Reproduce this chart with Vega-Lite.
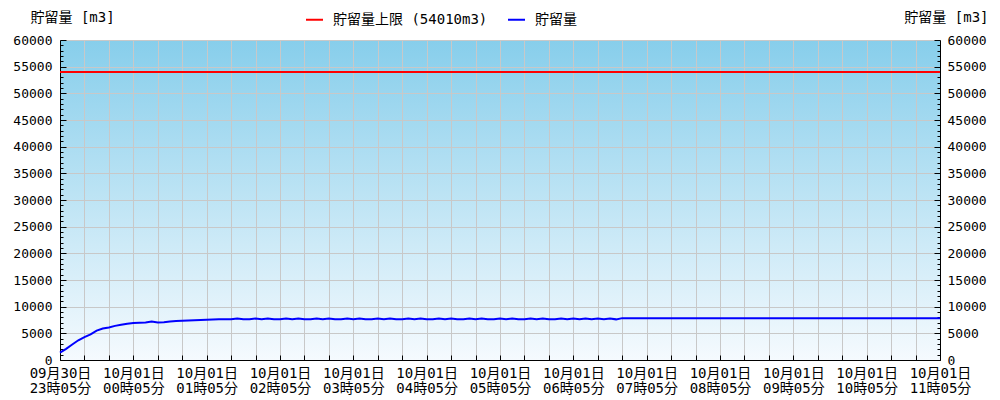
{
  "$schema": "https://vega.github.io/schema/vega-lite/v6.json",
  "width": 880,
  "height": 320,
  "autosize": {"type": "none"},
  "padding": {"left": 60, "top": 40, "right": 60, "bottom": 40},
  "background": "white",
  "config": {
    "view": {"stroke": null, "fill": {"gradient": "linear", "x1": 0, "y1": 0, "x2": 0, "y2": 1, "stops": [{"offset": 0, "color": "#87CEEB"}, {"offset": 1, "color": "#F5FAFE"}]}},
    "font": "DejaVu Sans Mono, Noto Sans CJK JP",
    "axis": {
      "labelFont": "DejaVu Sans Mono, Noto Sans CJK JP",
      "titleFont": "DejaVu Sans Mono, Noto Sans CJK JP",
      "labelColor": "#000000",
      "titleColor": "#000000",
      "domainColor": "#000000",
      "tickColor": "#000000",
      "gridColor": "#c8c8c8",
      "gridWidth": 1
    },
    "legend": {"labelFont": "DejaVu Sans Mono, Noto Sans CJK JP"}
  },
  "data": {"values": [
    {"t": "2023-09-30T23:05:00", "v": 1400},
    {"t": "2023-09-30T23:10:00", "v": 2100},
    {"t": "2023-09-30T23:15:00", "v": 2900},
    {"t": "2023-09-30T23:20:00", "v": 3700},
    {"t": "2023-09-30T23:25:00", "v": 4300},
    {"t": "2023-09-30T23:30:00", "v": 4800},
    {"t": "2023-09-30T23:35:00", "v": 5500},
    {"t": "2023-09-30T23:40:00", "v": 5900},
    {"t": "2023-09-30T23:45:00", "v": 6100},
    {"t": "2023-09-30T23:50:00", "v": 6400},
    {"t": "2023-09-30T23:55:00", "v": 6600},
    {"t": "2023-10-01T00:00:00", "v": 6800},
    {"t": "2023-10-01T00:05:00", "v": 6950},
    {"t": "2023-10-01T00:10:00", "v": 7000},
    {"t": "2023-10-01T00:15:00", "v": 7050},
    {"t": "2023-10-01T00:20:00", "v": 7200},
    {"t": "2023-10-01T00:25:00", "v": 7050},
    {"t": "2023-10-01T00:30:00", "v": 7100},
    {"t": "2023-10-01T00:35:00", "v": 7200},
    {"t": "2023-10-01T00:40:00", "v": 7300},
    {"t": "2023-10-01T00:45:00", "v": 7350},
    {"t": "2023-10-01T00:50:00", "v": 7400},
    {"t": "2023-10-01T00:55:00", "v": 7450},
    {"t": "2023-10-01T01:00:00", "v": 7500},
    {"t": "2023-10-01T01:05:00", "v": 7550},
    {"t": "2023-10-01T01:10:00", "v": 7600},
    {"t": "2023-10-01T01:15:00", "v": 7620},
    {"t": "2023-10-01T01:20:00", "v": 7650},
    {"t": "2023-10-01T01:25:00", "v": 7620},
    {"t": "2023-10-01T01:30:00", "v": 7800},
    {"t": "2023-10-01T01:35:00", "v": 7620},
    {"t": "2023-10-01T01:40:00", "v": 7620},
    {"t": "2023-10-01T01:45:00", "v": 7800},
    {"t": "2023-10-01T01:50:00", "v": 7620},
    {"t": "2023-10-01T01:55:00", "v": 7800},
    {"t": "2023-10-01T02:00:00", "v": 7620},
    {"t": "2023-10-01T02:05:00", "v": 7620},
    {"t": "2023-10-01T02:10:00", "v": 7800},
    {"t": "2023-10-01T02:15:00", "v": 7620},
    {"t": "2023-10-01T02:20:00", "v": 7800},
    {"t": "2023-10-01T02:25:00", "v": 7620},
    {"t": "2023-10-01T02:30:00", "v": 7620},
    {"t": "2023-10-01T02:35:00", "v": 7800},
    {"t": "2023-10-01T02:40:00", "v": 7620},
    {"t": "2023-10-01T02:45:00", "v": 7800},
    {"t": "2023-10-01T02:50:00", "v": 7620},
    {"t": "2023-10-01T02:55:00", "v": 7620},
    {"t": "2023-10-01T03:00:00", "v": 7800},
    {"t": "2023-10-01T03:05:00", "v": 7620},
    {"t": "2023-10-01T03:10:00", "v": 7800},
    {"t": "2023-10-01T03:15:00", "v": 7620},
    {"t": "2023-10-01T03:20:00", "v": 7620},
    {"t": "2023-10-01T03:25:00", "v": 7800},
    {"t": "2023-10-01T03:30:00", "v": 7620},
    {"t": "2023-10-01T03:35:00", "v": 7800},
    {"t": "2023-10-01T03:40:00", "v": 7620},
    {"t": "2023-10-01T03:45:00", "v": 7620},
    {"t": "2023-10-01T03:50:00", "v": 7800},
    {"t": "2023-10-01T03:55:00", "v": 7620},
    {"t": "2023-10-01T04:00:00", "v": 7800},
    {"t": "2023-10-01T04:05:00", "v": 7620},
    {"t": "2023-10-01T04:10:00", "v": 7620},
    {"t": "2023-10-01T04:15:00", "v": 7800},
    {"t": "2023-10-01T04:20:00", "v": 7620},
    {"t": "2023-10-01T04:25:00", "v": 7800},
    {"t": "2023-10-01T04:30:00", "v": 7620},
    {"t": "2023-10-01T04:35:00", "v": 7620},
    {"t": "2023-10-01T04:40:00", "v": 7800},
    {"t": "2023-10-01T04:45:00", "v": 7620},
    {"t": "2023-10-01T04:50:00", "v": 7800},
    {"t": "2023-10-01T04:55:00", "v": 7620},
    {"t": "2023-10-01T05:00:00", "v": 7620},
    {"t": "2023-10-01T05:05:00", "v": 7800},
    {"t": "2023-10-01T05:10:00", "v": 7620},
    {"t": "2023-10-01T05:15:00", "v": 7800},
    {"t": "2023-10-01T05:20:00", "v": 7620},
    {"t": "2023-10-01T05:25:00", "v": 7620},
    {"t": "2023-10-01T05:30:00", "v": 7800},
    {"t": "2023-10-01T05:35:00", "v": 7620},
    {"t": "2023-10-01T05:40:00", "v": 7800},
    {"t": "2023-10-01T05:45:00", "v": 7620},
    {"t": "2023-10-01T05:50:00", "v": 7620},
    {"t": "2023-10-01T05:55:00", "v": 7800},
    {"t": "2023-10-01T06:00:00", "v": 7620},
    {"t": "2023-10-01T06:05:00", "v": 7800},
    {"t": "2023-10-01T06:10:00", "v": 7620},
    {"t": "2023-10-01T06:15:00", "v": 7800},
    {"t": "2023-10-01T06:20:00", "v": 7620},
    {"t": "2023-10-01T06:25:00", "v": 7800},
    {"t": "2023-10-01T06:30:00", "v": 7620},
    {"t": "2023-10-01T06:35:00", "v": 7800},
    {"t": "2023-10-01T06:40:00", "v": 7620},
    {"t": "2023-10-01T06:45:00", "v": 7850},
    {"t": "2023-10-01T06:50:00", "v": 7850},
    {"t": "2023-10-01T06:55:00", "v": 7850},
    {"t": "2023-10-01T07:00:00", "v": 7850},
    {"t": "2023-10-01T07:05:00", "v": 7850},
    {"t": "2023-10-01T07:10:00", "v": 7850},
    {"t": "2023-10-01T07:15:00", "v": 7850},
    {"t": "2023-10-01T07:20:00", "v": 7850},
    {"t": "2023-10-01T07:25:00", "v": 7850},
    {"t": "2023-10-01T07:30:00", "v": 7850},
    {"t": "2023-10-01T07:35:00", "v": 7850},
    {"t": "2023-10-01T07:40:00", "v": 7850},
    {"t": "2023-10-01T07:45:00", "v": 7850},
    {"t": "2023-10-01T07:50:00", "v": 7850},
    {"t": "2023-10-01T07:55:00", "v": 7850},
    {"t": "2023-10-01T08:00:00", "v": 7850},
    {"t": "2023-10-01T08:05:00", "v": 7850},
    {"t": "2023-10-01T08:10:00", "v": 7850},
    {"t": "2023-10-01T08:15:00", "v": 7850},
    {"t": "2023-10-01T08:20:00", "v": 7850},
    {"t": "2023-10-01T08:25:00", "v": 7850},
    {"t": "2023-10-01T08:30:00", "v": 7850},
    {"t": "2023-10-01T08:35:00", "v": 7850},
    {"t": "2023-10-01T08:40:00", "v": 7850},
    {"t": "2023-10-01T08:45:00", "v": 7850},
    {"t": "2023-10-01T08:50:00", "v": 7850},
    {"t": "2023-10-01T08:55:00", "v": 7850},
    {"t": "2023-10-01T09:00:00", "v": 7850},
    {"t": "2023-10-01T09:05:00", "v": 7850},
    {"t": "2023-10-01T09:10:00", "v": 7850},
    {"t": "2023-10-01T09:15:00", "v": 7850},
    {"t": "2023-10-01T09:20:00", "v": 7850},
    {"t": "2023-10-01T09:25:00", "v": 7850},
    {"t": "2023-10-01T09:30:00", "v": 7850},
    {"t": "2023-10-01T09:35:00", "v": 7850},
    {"t": "2023-10-01T09:40:00", "v": 7850},
    {"t": "2023-10-01T09:45:00", "v": 7850},
    {"t": "2023-10-01T09:50:00", "v": 7850},
    {"t": "2023-10-01T09:55:00", "v": 7850},
    {"t": "2023-10-01T10:00:00", "v": 7850},
    {"t": "2023-10-01T10:05:00", "v": 7850},
    {"t": "2023-10-01T10:10:00", "v": 7850},
    {"t": "2023-10-01T10:15:00", "v": 7850},
    {"t": "2023-10-01T10:20:00", "v": 7850},
    {"t": "2023-10-01T10:25:00", "v": 7850},
    {"t": "2023-10-01T10:30:00", "v": 7850},
    {"t": "2023-10-01T10:35:00", "v": 7850},
    {"t": "2023-10-01T10:40:00", "v": 7850},
    {"t": "2023-10-01T10:45:00", "v": 7850},
    {"t": "2023-10-01T10:50:00", "v": 7850},
    {"t": "2023-10-01T10:55:00", "v": 7850},
    {"t": "2023-10-01T11:00:00", "v": 7850},
    {"t": "2023-10-01T11:05:00", "v": 7850}
  ]},
  "layer": [
    {
      "mark": {"type": "line", "strokeWidth": 2, "interpolate": "linear"},
      "encoding": {
        "x": {
          "field": "t", "type": "temporal",
          "scale": {"domain": [{"year": 2023, "month": 9, "date": 30, "hours": 23, "minutes": 5}, {"year": 2023, "month": 10, "date": 1, "hours": 11, "minutes": 5}], "nice": false},
          "axis": {
            "title": null,
            "values": [
              {"year": 2023, "month": 9, "date": 30, "hours": 23, "minutes": 5},
              {"year": 2023, "month": 9, "date": 30, "hours": 23, "minutes": 25},
              {"year": 2023, "month": 9, "date": 30, "hours": 23, "minutes": 45},
              {"year": 2023, "month": 10, "date": 1, "hours": 0, "minutes": 5},
              {"year": 2023, "month": 10, "date": 1, "hours": 0, "minutes": 25},
              {"year": 2023, "month": 10, "date": 1, "hours": 0, "minutes": 45},
              {"year": 2023, "month": 10, "date": 1, "hours": 1, "minutes": 5},
              {"year": 2023, "month": 10, "date": 1, "hours": 1, "minutes": 25},
              {"year": 2023, "month": 10, "date": 1, "hours": 1, "minutes": 45},
              {"year": 2023, "month": 10, "date": 1, "hours": 2, "minutes": 5},
              {"year": 2023, "month": 10, "date": 1, "hours": 2, "minutes": 25},
              {"year": 2023, "month": 10, "date": 1, "hours": 2, "minutes": 45},
              {"year": 2023, "month": 10, "date": 1, "hours": 3, "minutes": 5},
              {"year": 2023, "month": 10, "date": 1, "hours": 3, "minutes": 25},
              {"year": 2023, "month": 10, "date": 1, "hours": 3, "minutes": 45},
              {"year": 2023, "month": 10, "date": 1, "hours": 4, "minutes": 5},
              {"year": 2023, "month": 10, "date": 1, "hours": 4, "minutes": 25},
              {"year": 2023, "month": 10, "date": 1, "hours": 4, "minutes": 45},
              {"year": 2023, "month": 10, "date": 1, "hours": 5, "minutes": 5},
              {"year": 2023, "month": 10, "date": 1, "hours": 5, "minutes": 25},
              {"year": 2023, "month": 10, "date": 1, "hours": 5, "minutes": 45},
              {"year": 2023, "month": 10, "date": 1, "hours": 6, "minutes": 5},
              {"year": 2023, "month": 10, "date": 1, "hours": 6, "minutes": 25},
              {"year": 2023, "month": 10, "date": 1, "hours": 6, "minutes": 45},
              {"year": 2023, "month": 10, "date": 1, "hours": 7, "minutes": 5},
              {"year": 2023, "month": 10, "date": 1, "hours": 7, "minutes": 25},
              {"year": 2023, "month": 10, "date": 1, "hours": 7, "minutes": 45},
              {"year": 2023, "month": 10, "date": 1, "hours": 8, "minutes": 5},
              {"year": 2023, "month": 10, "date": 1, "hours": 8, "minutes": 25},
              {"year": 2023, "month": 10, "date": 1, "hours": 8, "minutes": 45},
              {"year": 2023, "month": 10, "date": 1, "hours": 9, "minutes": 5},
              {"year": 2023, "month": 10, "date": 1, "hours": 9, "minutes": 25},
              {"year": 2023, "month": 10, "date": 1, "hours": 9, "minutes": 45},
              {"year": 2023, "month": 10, "date": 1, "hours": 10, "minutes": 5},
              {"year": 2023, "month": 10, "date": 1, "hours": 10, "minutes": 25},
              {"year": 2023, "month": 10, "date": 1, "hours": 10, "minutes": 45},
              {"year": 2023, "month": 10, "date": 1, "hours": 11, "minutes": 5}
            ],
            "labelExpr": "timeFormat(datum.value, '%M') === '05' ? [timeFormat(datum.value, '%m月%d日'), timeFormat(datum.value, '%H時%M分')] : ''",
            "labelOverlap": false,
            "labelFlush": false,
            "labelBound": false,
            "labelFontSize": 14,
            "labelLineHeight": 15,
            "labelBaseline": "top",
            "labelPadding": 11,
            "tickSize": -5,
            "grid": true
          }
        },
        "y": {
          "field": "v", "type": "quantitative",
          "scale": {"domain": [0, 60000], "nice": false},
          "axis": {
            "orient": "left",
            "values": [0,1000,2000,3000,4000,5000,6000,7000,8000,9000,10000,11000,12000,13000,14000,15000,16000,17000,18000,19000,20000,21000,22000,23000,24000,25000,26000,27000,28000,29000,30000,31000,32000,33000,34000,35000,36000,37000,38000,39000,40000,41000,42000,43000,44000,45000,46000,47000,48000,49000,50000,51000,52000,53000,54000,55000,56000,57000,58000,59000,60000],
            "format": "d",
            "labelExpr": "datum.value % 5000 === 0 ? datum.label : ''",
            "labelOverlap": false,
            "labelFontSize": 13,
            "labelPadding": 14,
            "tickSize": -6,
            "tickDash": {"condition": {"test": "datum.value % 5000 !== 0", "value": [3, 20]}, "value": []},
            "grid": true,
            "gridOpacity": {"condition": {"test": "datum.value % 5000 === 0", "value": 1}, "value": 0},
            "title": "貯留量 [m3]",
            "titleAngle": 0,
            "titleAlign": "left",
            "titleBaseline": "middle",
            "titleX": -30,
            "titleY": -23,
            "titleFontSize": 14,
            "titleFontWeight": "normal"
          }
        },
        "color": {
          "datum": "貯留量",
          "scale": {"domain": ["貯留量上限 (54010m3)", "貯留量"], "range": ["#ff0000", "#0000ff"]},
          "legend": {
            "title": null,
            "orient": "none",
            "legendX": 245,
            "legendY": -30,
            "direction": "horizontal",
            "symbolType": "stroke",
            "symbolSize": 289,
            "symbolStrokeWidth": 2,
            "labelFontSize": 14,
            "labelOffset": 9,
            "columnPadding": 16,
            "labelColor": "#000000"
          }
        }
      }
    },
    {
      "mark": {"type": "rule", "strokeWidth": 2},
      "encoding": {
        "y": {
          "datum": 54010, "type": "quantitative",
          "scale": {"domain": [0, 60000], "nice": false},
          "axis": {
            "orient": "right",
            "values": [0,1000,2000,3000,4000,5000,6000,7000,8000,9000,10000,11000,12000,13000,14000,15000,16000,17000,18000,19000,20000,21000,22000,23000,24000,25000,26000,27000,28000,29000,30000,31000,32000,33000,34000,35000,36000,37000,38000,39000,40000,41000,42000,43000,44000,45000,46000,47000,48000,49000,50000,51000,52000,53000,54000,55000,56000,57000,58000,59000,60000],
            "format": "d",
            "labelExpr": "datum.value % 5000 === 0 ? datum.label : ''",
            "labelOverlap": false,
            "labelFontSize": 13,
            "labelPadding": 13,
            "tickSize": -6,
            "tickDash": {"condition": {"test": "datum.value % 5000 !== 0", "value": [3, 20]}, "value": []},
            "grid": false,
            "title": "貯留量 [m3]",
            "titleAngle": 0,
            "titleAlign": "right",
            "titleBaseline": "middle",
            "titleX": 48,
            "titleY": -23,
            "titleFontSize": 14,
            "titleFontWeight": "normal"
          }
        },
        "color": {"datum": "貯留量上限 (54010m3)"}
      }
    }
  ],
  "resolve": {"axis": {"y": "independent"}}
}
